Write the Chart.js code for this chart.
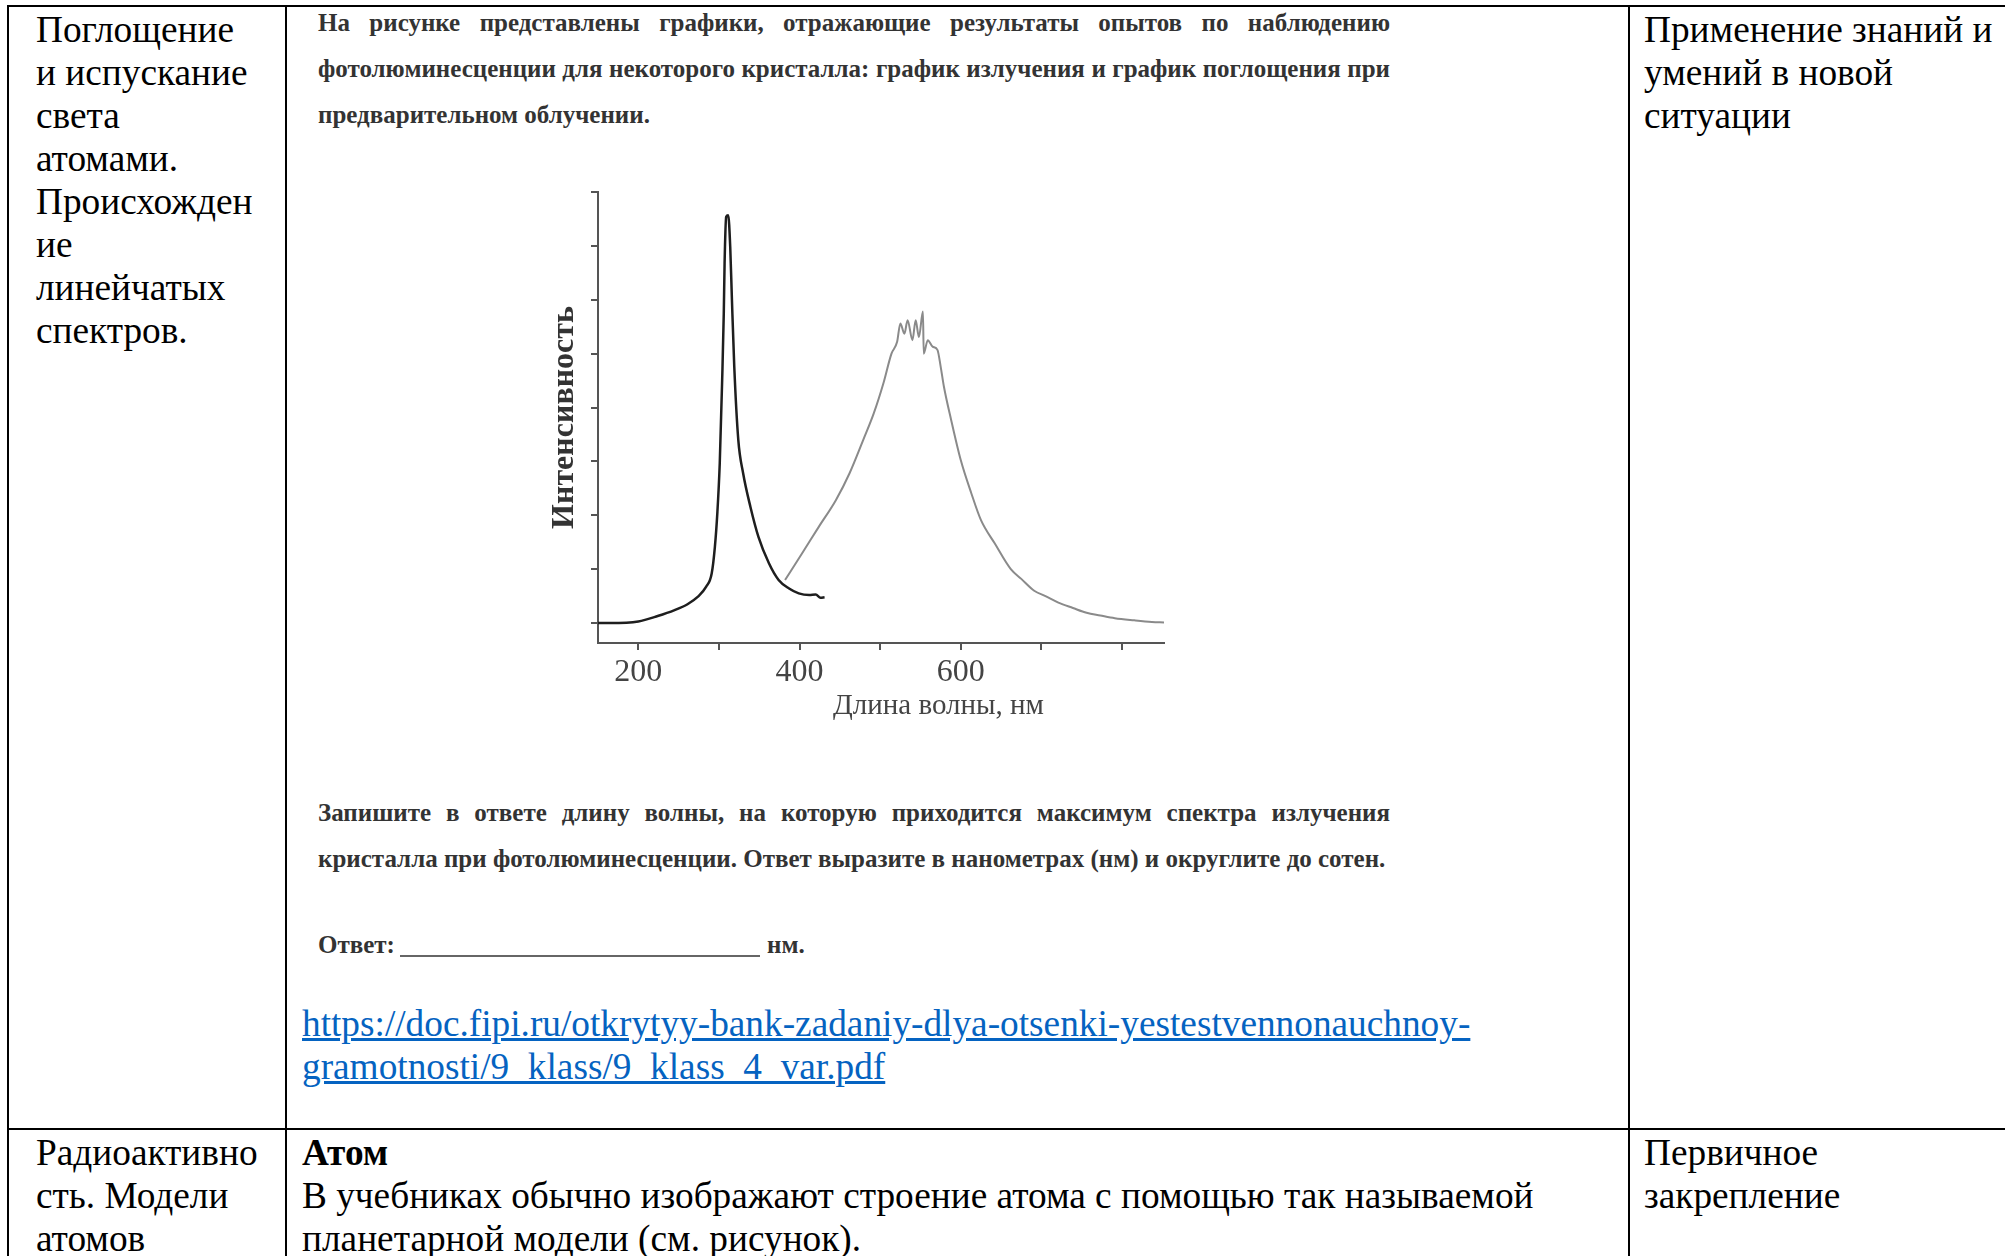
<!DOCTYPE html>
<html>
<head>
<meta charset="utf-8">
<script src="https://cdn.jsdelivr.net/npm/chart.js@4.4.1/dist/chart.umd.min.js"></script>
<style>
body{margin:0;background:#fff;width:2005px;height:1256px;overflow:hidden;position:relative;font-family:"Liberation Serif","DejaVu Serif",serif;}
.ln{position:absolute;background:#000;}
.cell{position:absolute;font-size:37.3px;line-height:43px;color:#000;white-space:nowrap;}
.task{position:absolute;left:318px;width:1072px;font-family:"Liberation Serif",serif;font-weight:bold;font-size:25px;color:#333;line-height:30px;white-space:nowrap;}
.just{text-align:justify;text-align-last:justify;white-space:normal;}
a{color:#0563c1;text-decoration:underline;}
#box{position:absolute;left:520px;top:175px;width:660px;height:520px;}
#xt{position:absolute;left:833px;top:688px;width:200px;text-align:center;font-size:29px;color:#444;white-space:nowrap;}
</style>
</head>
<body>
<!-- table frame -->
<div class="ln" style="left:7px;top:5px;width:1998px;height:2px"></div>
<div class="ln" style="left:7px;top:5px;width:2px;height:1251px"></div>
<div class="ln" style="left:285px;top:5px;width:2px;height:1251px"></div>
<div class="ln" style="left:1628px;top:5px;width:2px;height:1251px"></div>
<div class="ln" style="left:7px;top:1128px;width:1998px;height:2px"></div>

<div class="cell" style="left:36px;top:8px">Поглощение<br>и испускание<br>света<br>атомами.<br>Происхожден<br>ие<br>линейчатых<br>спектров.</div>
<div class="cell" style="left:1644px;top:8px">Применение знаний и<br>умений в новой<br>ситуации</div>

<div class="task just" style="top:8px">На рисунке представлены графики, отражающие результаты опытов по наблюдению</div>
<div class="task just" style="top:54px">фотолюминесценции для некоторого кристалла: график излучения и график поглощения при</div>
<div class="task" style="top:100px">предварительном облучении.</div>

<div id="box"><canvas id="mycanvas"></canvas></div>
<div id="xt">Длина волны, нм</div>

<div class="task just" style="top:798px">Запишите в ответе длину волны, на которую приходится максимум спектра излучения</div>
<div class="task" style="top:844px">кристалла при фотолюминесценции. Ответ выразите в нанометрах (нм) и округлите до сотен.</div>
<div class="task" style="top:930px">Ответ:</div>
<div style="position:absolute;left:400px;top:955px;width:360px;height:2px;background:#666"></div>
<div class="task" style="top:930px;left:767px">нм.</div>

<div class="cell" style="left:302px;top:1002px"><a>https://doc.fipi.ru/otkrytyy-bank-zadaniy-dlya-otsenki-yestestvennonauchnoy-</a><br><a>gramotnosti/9_klass/9_klass_4_var.pdf</a></div>

<div class="cell" style="left:36px;top:1131px">Радиоактивно<br>сть. Модели<br>атомов</div>
<div class="cell" style="left:302px;top:1131px"><b>Атом</b><br>В учебниках обычно изображают строение атома с помощью так называемой<br>планетарной модели (см. рисунок).</div>
<div class="cell" style="left:1644px;top:1131px">Первичное<br>закрепление</div>

<script>
// поглощение (чёрная кривая)
var absWl = [150, 165, 200, 224, 245, 261, 274, 284, 291, 295, 298, 301, 304, 306, 307, 309, 311.5, 314, 316, 319, 324, 330, 339, 349, 362, 374, 387, 399, 412, 420, 426, 431];
var absI  = [0, 0, 0.03, 0.13, 0.24, 0.35, 0.49, 0.67, 0.92, 1.42, 2.04, 2.96, 4.51, 5.75, 6.67, 7.54, 7.57, 6.98, 6.05, 4.76, 3.4, 2.78, 2.16, 1.6, 1.11, 0.8, 0.64, 0.55, 0.52, 0.53, 0.47, 0.48];
// излучение (серая кривая)
var emWl = [382, 403, 424, 445, 462, 479, 492, 504, 514, 521, 525, 530, 534, 540, 544, 548, 553, 554, 559, 565, 571, 575, 579, 588, 600, 613, 625, 642, 662, 675, 691, 705, 721, 739, 756, 773, 791, 815, 837, 852];
var emI  = [0.8, 1.29, 1.79, 2.28, 2.78, 3.4, 3.89, 4.45, 5.0, 5.22, 5.56, 5.37, 5.62, 5.25, 5.62, 5.31, 5.78, 5.0, 5.25, 5.13, 5.07, 4.76, 4.39, 3.77, 3.02, 2.41, 1.91, 1.48, 1.0, 0.82, 0.6, 0.5, 0.38, 0.28, 0.19, 0.14, 0.09, 0.05, 0.02, 0.01];
// деления осей
var xTicks = [200, 300, 400, 500, 600, 700, 800];
var xLabels = [200, 400, 600];
var yTicks = [0, 1, 2, 3, 4, 5, 6, 7, 8];

var absData = [], emData = [];
for (var i in absWl) absData.push({x: absWl[i], y: absI[i]});
for (var j in emWl) emData.push({x: emWl[j], y: emI[j]});

var axisColor = '#555';

new Chart(document.getElementById('mycanvas'), {
	type: 'line',
	data: {
		datasets: [
			{ data: absData, borderColor: '#1e1e1e', borderWidth: 2.5, pointRadius: 0, cubicInterpolationMode: 'monotone' },
			{ data: emData, borderColor: '#8a8a8a', borderWidth: 2, pointRadius: 0, cubicInterpolationMode: 'monotone' }
		]
	},
	options: {
		responsive: true,
		maintainAspectRatio: false,
		animation: false,
		events: [],
		layout: { padding: { top: 17, right: 16, left: 0, bottom: 0 } },
		plugins: { legend: { display: false }, tooltip: { enabled: false } },
		scales: {
			x: {
				type: 'linear', min: 150, max: 852,
				afterBuildTicks: function(s) { s.ticks = xTicks.map(function(v) { return {value: v}; }); },
				afterFit: function(s) { s.height = 52; },
				border: { display: true, color: axisColor, width: 2 },
				grid: { drawOnChartArea: false, drawTicks: true, tickLength: 7, color: axisColor, lineWidth: 2 },
				ticks: {
					autoSkip: false, maxRotation: 0, padding: 3,
					color: '#444', font: { family: 'Liberation Serif', size: 32 },
					callback: function(v) { return xLabels.indexOf(v) >= 0 ? String(v) : ''; }
				}
			},
			y: {
				type: 'linear', min: -0.37, max: 8,
				afterBuildTicks: function(s) { s.ticks = yTicks.map(function(v) { return {value: v}; }); },
				afterFit: function(s) { s.width = 78; },
				border: { display: true, color: axisColor, width: 2 },
				grid: { drawOnChartArea: false, drawTicks: true, tickLength: 7, color: axisColor, lineWidth: 2 },
				ticks: { display: false },
				title: {
					display: true, text: 'Интенсивность', color: '#333',
					font: { family: 'Liberation Serif', size: 32, weight: 'bold' },
					padding: { top: 26, bottom: 0 }
				}
			}
		}
	}
});
</script>
</body>
</html>
